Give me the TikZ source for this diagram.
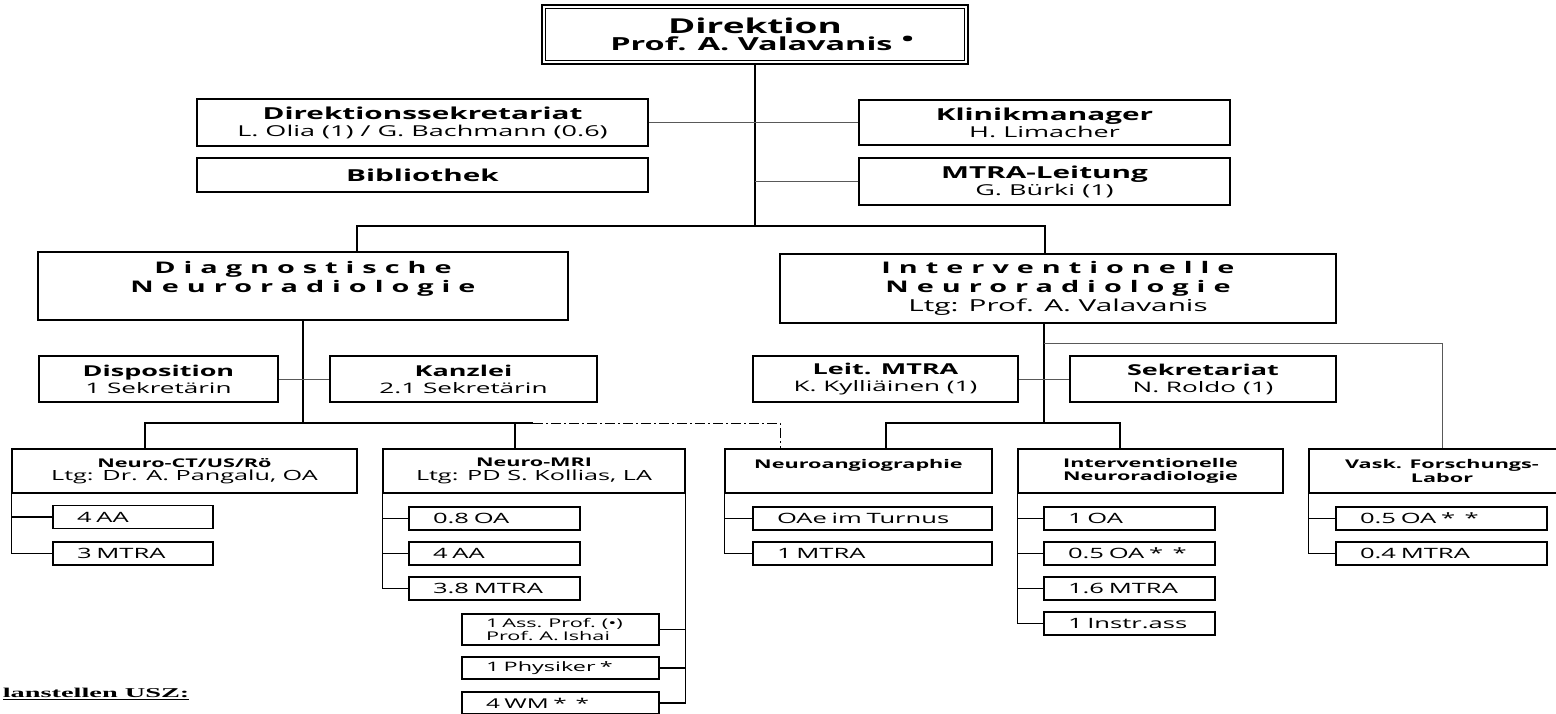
\documentclass[tikz,border=0pt]{standalone}
\usepackage{fontspec}
\setmainfont{Open Sans}[FakeStretch=1.8]
\newfontfamily\ftnfont{Liberation Serif}[FakeStretch=2.1]
\newcommand\spaced{\bfseries\fontsize{16}{19}\selectfont\addfontfeatures{LetterSpace=50}}
\newcommand\boxtitle[2][16.5]{{\bfseries\fontsize{#1}{17}\selectfont #2}}
\usetikzlibrary{positioning,calc}

\begin{document}
\begin{tikzpicture}[x=1pt,y=-1pt,
  font=\fontsize{15}{17}\selectfont,
  box/.style={draw,line width=1.4pt,inner sep=0pt,align=center},
  mid/.style={box,minimum height=46pt,font=\fontsize{14.5}{17}\selectfont},
  unit/.style={box,minimum height=44pt,font=\fontsize{14}{13.5}\selectfont},
  ut/.style={font=\bfseries\fontsize{12}{13.5}\selectfont},
  staff/.style={draw,line width=1.4pt,inner ysep=0pt,inner xsep=24pt,minimum height=23pt,
                text width=#1pt,align=left,font=\fontsize{14.2}{15}\selectfont},
  link/.style={line width=1.4pt},
  side/.style={line width=1pt,draw=black!65},
  dashdot/.style={line width=1pt,dash pattern=on 10pt off 3pt on 2pt off 3pt}
]
\path[use as bounding box,fill=white] (0,0) rectangle (1556,713);

% direction and staff units
\node[box,minimum width=426pt,minimum height=59pt,line width=2.8pt] (dir) at (755,34.5)
  {\boxtitle[20.5]{Direktion}\\
   \boxtitle[18]{\hspace{14pt}Prof. A. Valavanis\hspace{9pt}\raisebox{5pt}{\textbullet}}};
\draw[line width=1pt] ([shift={(4.5,4.5)}]dir.north west) rectangle ([shift={(-4.5,-4.5)}]dir.south east);

\node[box,minimum width=451pt,minimum height=47pt] (sek) at (422.5,122.5)
  {\boxtitle{Direktionssekretariat}\\L. Olia (1) / G. Bachmann (0.6)};
\node[box,minimum width=451pt,minimum height=34pt] (bib) at (422.5,175) {\boxtitle{Bibliothek}};
\node[box,minimum width=371pt,minimum height=45pt] (klin) at (1044.5,122.5)
  {\boxtitle{Klinikmanager}\\H. Limacher};
\node[box,minimum width=371pt,minimum height=47pt] (mtral) at (1044.5,181.5)
  {\boxtitle{MTRA-Leitung}\\G. Bürki (1)};

% departments
\node[box,minimum width=530pt,minimum height=68pt,font=\spaced] (diag) at (303,286)
  {Diagnostische\\Neuroradiologie\\\mbox{}};
\node[box,minimum width=556pt,minimum height=69pt,font=\fontsize{16.5}{19}\selectfont] (int) at (1058,288.5)
  {{\spaced Interventionelle}\\{\spaced Neuroradiologie}\\Ltg: Prof. A. Valavanis};

\node[mid,minimum width=239pt] (disp) at (158.5,379) {\boxtitle[15]{Disposition}\\1 Sekretärin};
\node[mid,minimum width=267pt] (kanz) at (463.5,379) {\boxtitle[15]{Kanzlei}\\2.1 Sekretärin};
\node[mid,minimum width=265pt] (leit) at (885.5,379) {\boxtitle[15]{Leit. MTRA}\\K. Kylliäinen (1)};
\node[mid,minimum width=266pt] (sekr) at (1203,379) {\boxtitle[15]{Sekretariat}\\N. Roldo (1)};

% sections
\node[unit,minimum width=345pt] (ct) at (184.5,471)
  {\boxtitle[12]{Neuro-CT/US/Rö}\\Ltg: Dr. A. Pangalu, OA};
\node[unit,minimum width=302pt] (mri) at (534,471)
  {\boxtitle[12]{Neuro-MRI}\\Ltg: PD S. Kollias, LA};
\node[unit,ut,minimum width=267pt] (angio) at (858.5,471) {Neuroangiographie\\\mbox{}};
\node[unit,ut,minimum width=265pt] (intb) at (1150.5,471) {Interventionelle\\Neuroradiologie};
\node[unit,ut,minimum width=266pt] (vask) at (1442,471) {Vask. Forschungs-\\Labor};

% staff boxes
\node[staff=112] (ct1) at (133,517) {4 AA};
\node[staff=112] (ct2) at (133,553.5) {3 MTRA};
\node[staff=123] (mri1) at (494.5,518.5) {0.8 OA};
\node[staff=123] (mri2) at (494.5,553.5) {4 AA};
\node[staff=123] (mri3) at (494.5,588.5) {3.8 MTRA};
\node[staff=149,minimum height=31pt,font=\fontsize{12}{9.5}\selectfont] (mri4) at (560.5,629.5)
  {1 Ass. Prof. (\textbullet)\\Prof. A. Ishai};
\node[staff=149,minimum height=22pt,font=\fontsize{13}{15}\selectfont] (mri5) at (560.5,668) {1 Physiker *};
\node[staff=149,minimum height=22pt,font=\fontsize{13.5}{15}\selectfont] (mri6) at (560.5,703) {4 WM *\ \ *};
\node[staff=191] (angio1) at (872.5,518.5) {OAe im Turnus};
\node[staff=191] (angio2) at (872.5,553.5) {1 MTRA};
\node[staff=123] (intb1) at (1129.5,518.5) {1 OA};
\node[staff=123] (intb2) at (1129.5,553.5) {0.5 OA *\ \ *};
\node[staff=123] (intb3) at (1129.5,588.5) {1.6 MTRA};
\node[staff=123] (intb4) at (1129.5,623.5) {1 Instr.ass};
\node[staff=163] (vask1) at (1441.5,518.5) {0.5 OA *\ \ *};
\node[staff=163] (vask2) at (1441.5,553.5) {0.4 MTRA};

\node[anchor=east,font=\ftnfont\bfseries\fontsize{13.5}{15}\selectfont] (ftn) at (193,694)
  {\underline{lanstellen USZ:}};

% main trunk
\coordinate (j0) at (755,226);
\draw[link] (dir.south) -- (j0);
\draw[link] ([xshift=54pt]diag.north) |- (j0) -| ([xshift=-13pt]int.north);
\draw[side] (sek) -- (klin);
\draw[side] (mtral.west) -- (mtral.west -| j0);

% diagnostic branch
\coordinate (jd) at (303,423);
\coordinate (jda) at (533,423);
\draw[link] (diag.south) -- (jd);
\draw[side] (disp) -- (kanz);
\draw[link] ([xshift=-39.5pt]ct.north) |- (jd) -| ([xshift=-19pt]mri.north);
\draw[link] (jd) -- (jda);
\draw[dashdot] (jda) -| ([xshift=-78.5pt]angio.north);

% interventional branch
\coordinate (ji) at (1044,423);
\coordinate (jv) at (1044,343);
\draw[link] ([xshift=-14pt]int.south) -- (ji);
\draw[side] (leit) -- (sekr);
\draw[link] ([xshift=27.5pt]angio.north) |- (ji) -| ([xshift=-30.5pt]intb.north);
\draw[side] (jv) -| (vask.north);

% staff links
\foreach \p/\s in {ct/ct1,ct/ct2,mri/mri1,mri/mri2,mri/mri3,angio/angio1,angio/angio2,
                   intb/intb1,intb/intb2,intb/intb3,intb/intb4,vask/vask1,vask/vask2}
  \draw[link] (\p.south west) |- (\s.west);
\foreach \s in {mri4,mri5,mri6} \draw[link] (mri.south east) |- (\s.east);

\end{tikzpicture}
\end{document}
